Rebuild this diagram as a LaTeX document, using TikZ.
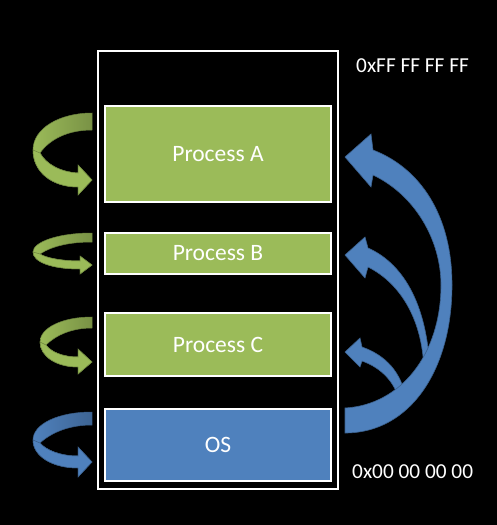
\documentclass[tikz,border=0pt]{standalone}
\usepackage{fontspec}
\setmainfont{Carlito}
\definecolor{ogreen}{HTML}{9BBB59}
\definecolor{oblue}{HTML}{4F81BD}
\begin{document}
\begin{tikzpicture}[x=1pt,y=-1pt,
  procbox/.style={rectangle, draw=white, line width=2pt, text=white,
    minimum width=226pt, font=\fontsize{23.5pt}{28pt}\selectfont, inner sep=0pt},
  addr/.style={text=white, font=\fontsize{21.3pt}{25pt}\selectfont, inner sep=0pt},
  gback/.style={left color=ogreen, right color=ogreen!78!black, draw=ogreen!70!black, line width=0.5pt},
  gfront/.style={fill=ogreen, draw=ogreen!70!black, line width=0.5pt},
  bback/.style={left color=oblue, right color=oblue!78!black, draw=oblue!70!black, line width=0.5pt},
  bfront/.style={fill=oblue, draw=oblue!70!black, line width=0.5pt},
  barrow/.style={fill=oblue, draw=oblue!75!black, line width=0.6pt}]
\fill[black] (0,0) rectangle (497,525);
\useasboundingbox (0,0) rectangle (497,525);

% memory outline
\node[draw=white, line width=2pt, minimum width=240.5pt, minimum height=437.5pt, inner sep=0pt] (mem) at (217.75,269.75) {};

% boxes
\node[procbox, fill=ogreen, minimum height=96pt] (pa) at (218,154) {Process A};
\node[procbox, fill=ogreen, minimum height=41pt] (pb) at (218,253.5) {Process B};
\node[procbox, fill=ogreen, minimum height=63pt] (pc) at (218,344.5) {Process C};
\node[procbox, fill=oblue, minimum height=72pt] (os) at (218,445) {OS};

% addresses
\node[addr, anchor=base west] (top) at (356,72) {0xFF FF FF FF};
\node[addr, anchor=base west] (bot) at (352,478) {0x00 00 00 00};

% left curved arrows: A
\shade[gback] (92,113) .. controls (60,113) and (33,128) .. (33,150)
  .. controls (33,172) and (52,187) .. (78,187) -- (78,195) -- (92,180) -- (78,165) -- (78,173)
  .. controls (60,172) and (46,164) .. (40,153)
  .. controls (50,139) and (68,130) .. (92,130) -- cycle;
\path[gfront] (33,150) .. controls (33,172) and (52,187) .. (78,187) -- (78,195) -- (92,180) -- (78,165) -- (78,173)
  .. controls (60,172) and (46,164) .. (40,153) -- cycle;
% B
\shade[gback] (92,233) .. controls (58,233) and (33,242) .. (33,252)
  .. controls (33,262) and (52,269) .. (80,269) -- (80,274) -- (92,265) -- (80,256) -- (80,261)
  .. controls (62,261) and (46,258) .. (40,254)
  .. controls (52,246) and (70,242) .. (92,242) -- cycle;
\path[gfront] (33,252) .. controls (33,262) and (52,269) .. (80,269) -- (80,274) -- (92,265) -- (80,256) -- (80,261)
  .. controls (62,261) and (46,258) .. (40,254) -- cycle;
% C
\shade[gback] (92,317) .. controls (62,317) and (40,328) .. (40,342)
  .. controls (40,356) and (56,367) .. (78,367) -- (78,374) -- (92,362) -- (78,349) -- (78,357)
  .. controls (63,357) and (51,352) .. (46,345)
  .. controls (56,335) and (72,328) .. (92,328) -- cycle;
\path[gfront] (40,342) .. controls (40,356) and (56,367) .. (78,367) -- (78,374) -- (92,362) -- (78,349) -- (78,357)
  .. controls (63,357) and (51,352) .. (46,345) -- cycle;
% OS
\shade[bback] (92,412) .. controls (58,412) and (33,424) .. (33,440)
  .. controls (33,456) and (52,468) .. (78,468) -- (78,477) -- (92,462) -- (78,447) -- (78,456)
  .. controls (60,456) and (46,450) .. (40,443)
  .. controls (52,432) and (70,425) .. (92,425) -- cycle;
\path[bfront] (33,440) .. controls (33,456) and (52,468) .. (78,468) -- (78,477) -- (92,462) -- (78,447) -- (78,456)
  .. controls (60,456) and (46,450) .. (40,443) -- cycle;

% right blue arrows
\path[barrow] (368,248) .. controls (400,262) and (428,300) .. (430,375) -- (424,375)
  .. controls (424,320) and (400,283) .. (368,267) -- (365,278) -- (345,255) -- (365,237) -- cycle;
\path[barrow] (362,347) .. controls (385,355) and (402,372) .. (406,400) -- (399,400)
  .. controls (395,383) and (382,368) .. (362,361) -- (360,367) -- (345,352) -- (360,338) -- cycle;
\path[barrow] (345,433) .. controls (410,433) and (452,370) .. (452,285)
  .. controls (452,215) and (420,168) .. (373,150) -- (371,134) -- (345,157) -- (371,187) -- (373,175)
  .. controls (415,195) and (441,240) .. (441,285)
  .. controls (441,355) and (400,405) .. (345,408) -- cycle;
\end{tikzpicture}
\end{document}
